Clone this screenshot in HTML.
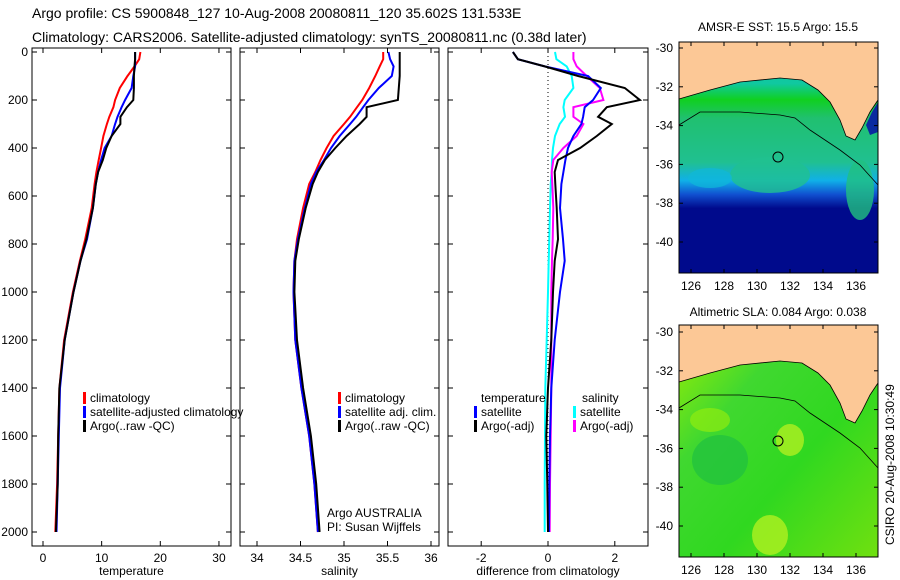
<!DOCTYPE html>
<html><head><meta charset="utf-8"><style>
body{margin:0;background:#fff;}
svg{display:block;font-family:"Liberation Sans",sans-serif;}
</style></head><body>
<svg id="fig" width="900" height="580" viewBox="0 0 900 580">
<text x="32" y="18" font-size="14">Argo profile: CS 5900848_127 10-Aug-2008 20080811_120 35.602S 131.533E</text>
<text x="32" y="42" font-size="14">Climatology: CARS2006. Satellite-adjusted climatology: synTS_20080811.nc (0.38d later)</text>
<g id="panels"></g>
<defs>
<linearGradient id="sstg" x1="0" y1="0" x2="0" y2="1">
<stop offset="0.18" stop-color="#10c8a0"/><stop offset="0.25" stop-color="#10d020"/><stop offset="0.33" stop-color="#20c070"/>
<stop offset="0.52" stop-color="#20c090"/><stop offset="0.6" stop-color="#10b0e8"/><stop offset="0.66" stop-color="#1050d0"/><stop offset="0.72" stop-color="#000a8c"/><stop offset="1" stop-color="#000a8c"/>
</linearGradient>
<linearGradient id="slag" x1="0" y1="0" x2="1" y2="1">
<stop offset="0" stop-color="#a0f000"/><stop offset="0.3" stop-color="#40d830"/><stop offset="0.6" stop-color="#30d820"/><stop offset="1" stop-color="#70e010"/>
</linearGradient>
</defs>
<g>
<text x="778" y="31" font-size="12" text-anchor="middle">AMSR-E SST: 15.5 Argo: 15.5</text>
<rect x="679" y="42" width="199" height="231" fill="url(#sstg)"/>
<ellipse cx="770" cy="175" rx="40" ry="18" fill="#20c090" opacity="0.8"/>
<ellipse cx="860" cy="190" rx="14" ry="30" fill="#20c080" opacity="0.8"/>
<ellipse cx="710" cy="178" rx="22" ry="10" fill="#10b8d8" opacity="0.7"/>
<polygon points="679,42 878,42 878,100 870,112 862,128 855,140 846,136 840,120 830,102 818,90 802,80 780,78 740,82 710,90 679,99" fill="#fcc896" stroke="#000" stroke-width="0.8"/>
<polygon points="878,102 872,112 866,125 870,135 878,132" fill="#0a2aa0"/>
<polyline points="679,125 700,112 740,112 780,115 795,118 810,130 840,150 860,165 878,185" fill="none" stroke="#000" stroke-width="0.8"/>
<circle cx="778" cy="157" r="5" fill="none" stroke="#000"/>
<rect x="679" y="42" width="199" height="231" fill="none" stroke="#000"/>
<g id="ax1"></g>
</g>
<g>
<text x="778" y="316" font-size="12" text-anchor="middle">Altimetric SLA: 0.084 Argo: 0.038</text>
<rect x="679" y="325" width="199" height="232" fill="url(#slag)"/>
<ellipse cx="720" cy="460" rx="28" ry="25" fill="#20c040" opacity="0.7"/>
<ellipse cx="790" cy="440" rx="14" ry="16" fill="#b0f020" opacity="0.8"/>
<ellipse cx="770" cy="535" rx="18" ry="20" fill="#b0f020" opacity="0.8"/>
<ellipse cx="710" cy="420" rx="20" ry="12" fill="#90ec10" opacity="0.7"/>
<polygon points="679,325 878,325 878,383 870,395 862,411 855,423 846,419 840,403 830,385 818,373 802,363 780,361 740,365 710,373 679,382" fill="#fcc896" stroke="#000" stroke-width="0.8"/>
<polyline points="679,408 700,395 740,395 780,398 795,401 810,413 840,433 860,448 878,468" fill="none" stroke="#000" stroke-width="0.8"/>
<circle cx="778" cy="441" r="5" fill="none" stroke="#000"/>
<rect x="679" y="325" width="199" height="232" fill="none" stroke="#000"/>
<g id="ax2"></g>
</g>
<text transform="translate(894,545) rotate(-90)" font-size="12">CSIRO 20-Aug-2008 10:30:49</text>
</svg>
<script>
const depths=[0,30,60,100,150,200,230,270,300,350,400,450,500,550,650,780,870,1000,1200,1400,1600,1800,2000];
const tClim=[16.6,16.4,15.6,14.4,13.1,12.3,12.0,11.3,10.9,10.3,9.9,9.5,9.1,8.8,8.3,7.2,6.3,5.1,3.6,2.8,2.6,2.4,2.1];
const tSat=[15.7,15.7,15.7,15.4,15.1,14.0,13.4,12.7,12.3,11.7,10.5,9.9,9.4,9.0,8.5,7.5,6.4,5.2,3.7,2.9,2.7,2.5,2.3];
const tArgo=[15.7,15.7,15.6,15.5,15.5,15.4,14.3,13.2,13.2,11.7,10.8,10.2,9.4,9.0,8.5,7.4,6.4,5.2,3.7,2.8,2.6,2.5,2.2];
const sClim=[35.45,35.45,35.41,35.36,35.29,35.21,35.15,35.07,35.0,34.88,34.80,34.73,34.67,34.60,34.53,34.46,34.43,34.42,34.44,34.51,34.60,34.66,34.70];
const sSat=[35.51,35.53,35.57,35.55,35.40,35.28,35.22,35.14,35.07,34.95,34.85,34.77,34.68,34.62,34.55,34.47,34.43,34.42,34.44,34.51,34.60,34.66,34.70];
const sArgo=[35.64,35.64,35.64,35.64,35.63,35.62,35.26,35.26,35.18,35.03,34.90,34.78,34.70,34.64,34.56,34.48,34.44,34.43,34.46,34.53,34.62,34.68,34.72];
const dTSat=[-1.05,-0.9,-0.1,1.2,1.58,1.35,1.1,1.05,1.0,0.76,0.6,0.52,0.46,0.4,0.36,0.45,0.5,0.36,0.2,0.1,0.06,0.04,0.03];
const dTArgo=[-1.05,-0.9,-0.1,0.9,2.3,2.75,1.76,1.5,1.91,1.46,0.96,0.3,0.2,0.22,0.26,0.3,0.2,0.15,0.1,0.0,-0.05,-0.02,0.0];
const dSSat=[0.21,0.25,0.56,0.71,0.76,0.5,0.46,0.51,0.35,0.21,0.15,0.12,0.11,0.08,0.06,0.04,0.02,0.0,-0.04,-0.08,-0.09,-0.1,-0.1];
const dSArgo=[0.76,0.76,0.86,1.16,1.55,1.66,0.76,0.76,1.06,0.86,0.46,0.16,0.11,0.13,0.16,0.14,0.12,0.1,0.1,0.1,0.08,0.06,0.05];
const depthTicks=[0,200,400,600,800,1000,1200,1400,1600,1800,2000];
const tTicks=[0,10,20,30], sTicks=[34,34.5,35,35.5,36], dTicks=[-2,0,2];
const lonTicks=[126,128,130,132,134,136], latTicks=[-30,-32,-34,-36,-38,-40];

const NS='http://www.w3.org/2000/svg';
function mk(tag,attrs,parent){const e=document.createElementNS(NS,tag);for(const k in attrs)e.setAttribute(k,attrs[k]);parent.appendChild(e);return e;}
const yTop=48,yBot=546;
const yD=d=>52+d*0.24;
const panels=[
 {x0:32,x1:231,sx:v=>43+v*5.865,ticks:tTicks,label:'temperature',name:'temperature-panel',
  series:[[tClim,'#f00'],[tSat,'#00f'],[tArgo,'#000']]},
 {x0:240,x1:439,sx:v=>257+(v-34)*87,ticks:sTicks,label:'salinity',name:'salinity-panel',
  series:[[sClim,'#f00'],[sSat,'#00f'],[sArgo,'#000']]},
 {x0:448,x1:648,sx:v=>548+v*33.4,ticks:dTicks,label:'difference from climatology',name:'difference-panel',
  series:[[dSSat,'#0ff'],[dSArgo,'#f0f'],[dTSat,'#00f'],[dTArgo,'#000']]}
];
const root=document.getElementById('panels');
panels.forEach((p,pi)=>{
 const g=mk('g',{},root);
 
 
 if(pi===2){mk('line',{x1:548,x2:548,y1:yTop,y2:530,stroke:'#000','stroke-dasharray':'1,3'},g);}
 p.series.forEach(([vals,col],si)=>{
  const pts=vals.map((v,i)=>p.sx(v).toFixed(1)+','+yD(depths[i]).toFixed(1)).join(' ');
  const l=mk('polyline',{points:pts,fill:'none',stroke:col,'stroke-width':2},g);
  
  
 });
 mk('rect',{x:p.x0,y:yTop,width:p.x1-p.x0,height:yBot-yTop,fill:'none',stroke:'#000'},g);
 p.ticks.forEach(t=>{
  const x=p.sx(t);
  mk('line',{x1:x,x2:x,y1:yBot,y2:yBot-5,stroke:'#000'},g);
  mk('line',{x1:x,x2:x,y1:yTop,y2:yTop+5,stroke:'#000'},g);
  const tx=mk('text',{x:x,y:yBot+16,'font-size':12,'text-anchor':'middle'},g);tx.textContent=t;
  
  
 });
 depthTicks.forEach(d=>{
  const y=yD(d);
  mk('line',{x1:p.x0,x2:p.x0+5,y1:y,y2:y,stroke:'#000'},g);
  mk('line',{x1:p.x1,x2:p.x1-5,y1:y,y2:y,stroke:'#000'},g);
  if(pi===0){const tx=mk('text',{x:28,y:y+4,'font-size':12,'text-anchor':'end'},g);tx.textContent=d;
   
   }
 });
 const xl=mk('text',{x:(p.x0+p.x1)/2,y:575,'font-size':12,'text-anchor':'middle'},g);xl.textContent=p.label;
 
 
});
function legend(x,y,items){
 const g=mk('g',{},root);
 
 
 items.forEach(([t,c],i)=>{
  const yy=y+i*14;
  if(c)mk('rect',{x:x,y:yy-10,width:3,height:12,fill:c},g);
  const tx=mk('text',{x:x+(c?7:0),y:yy,'font-size':12},g);tx.textContent=t;
  
  
 });
}
legend(83,402,[['climatology','#f00'],['satellite-adjusted climatology','#00f'],['Argo(..raw -QC)','#000']]);
legend(338,402,[['climatology','#f00'],['satellite adj. clim.','#00f'],['Argo(..raw -QC)','#000']]);
legend(481,402,[['temperature',null]]);
legend(474,416,[['satellite','#00f'],['Argo(-adj)','#000']]);
legend(582,402,[['salinity',null]]);
legend(573,416,[['satellite','#0ff'],['Argo(-adj)','#f0f']]);
legend(327,517,[['Argo AUSTRALIA',null],['PI: Susan Wijffels',null]]);

function mapAxes(id,y0,y1,lat30){
 const g=document.getElementById(id);
 lonTicks.forEach(l=>{const x=691+(l-126)*16.5;
  mk('line',{x1:x,x2:x,y1:y1,y2:y1-4,stroke:'#000'},g);
  mk('line',{x1:x,x2:x,y1:y0,y2:y0+4,stroke:'#000'},g);
  const t=mk('text',{x:x,y:y1+17,'font-size':12,'text-anchor':'middle'},g);t.textContent=l;
  
  });
 latTicks.forEach(l=>{const y=lat30+(-30-l)*19.4;
  mk('line',{x1:679,x2:683,y1:y,y2:y,stroke:'#000'},g);
  mk('line',{x1:878,x2:874,y1:y,y2:y,stroke:'#000'},g);
  const t=mk('text',{x:673,y:y+4,'font-size':12,'text-anchor':'end'},g);t.textContent=l;
  
  });
}
mapAxes('ax1',42,273,48);
mapAxes('ax2',325,557,332);
</script>
</body></html>
